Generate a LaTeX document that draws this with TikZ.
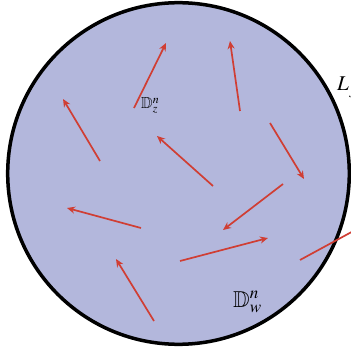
\documentclass[tikz,border=0pt]{standalone}
\usepackage{amsmath}
\usepackage{mathptmx}
\usepackage{amssymb}
\usepackage{xcolor}
\usetikzlibrary{arrows.meta}

\definecolor{discfill}{RGB}{179,183,220}
\definecolor{flowred}{RGB}{208,62,52}

\begin{document}
\begin{tikzpicture}[x=1pt,y=-1pt,
  flowarrow/.style={flowred,line width=1.7pt,-{Stealth[length=8pt,width=7pt,inset=2.5pt]}}]
\useasboundingbox (0,0) rectangle (351,350);
\begin{scope}
\clip (0,0) rectangle (351,350);
\draw[fill=discfill,line width=3.5pt] (178.5,173.5) circle (170.8);
\node[anchor=base west,inner sep=0pt] (lj) at (337,91) {\fontsize{21}{24}\selectfont $L_j$};
% flow lines
\draw[flowarrow] (134,108) -- (166,43);
\draw[flowarrow] (240,111) -- (230,41);
\draw[flowarrow] (100,161) -- (63,99);
\draw[flowarrow] (270,123) -- (304,179);
\draw[flowarrow] (213,186) -- (157,136);
\draw[flowarrow] (283,184) -- (223,230);
\draw[flowarrow] (141,228) -- (67,208);
\draw[flowarrow] (180,261) -- (268,238);
\draw[flowarrow] (154,321) -- (116,259);
\draw[flowred,line width=1.7pt] (300,260) -- (370,222);
\end{scope}
\node[anchor=base west,inner sep=0pt] (dz) at (141,109) {\fontsize{16}{18}\selectfont $\mathbb{D}^n_z$};
\node[anchor=base west,inner sep=0pt] (dw) at (233,307) {\fontsize{23}{26}\selectfont $\mathbb{D}^n_w$};
\end{tikzpicture}
\end{document}
